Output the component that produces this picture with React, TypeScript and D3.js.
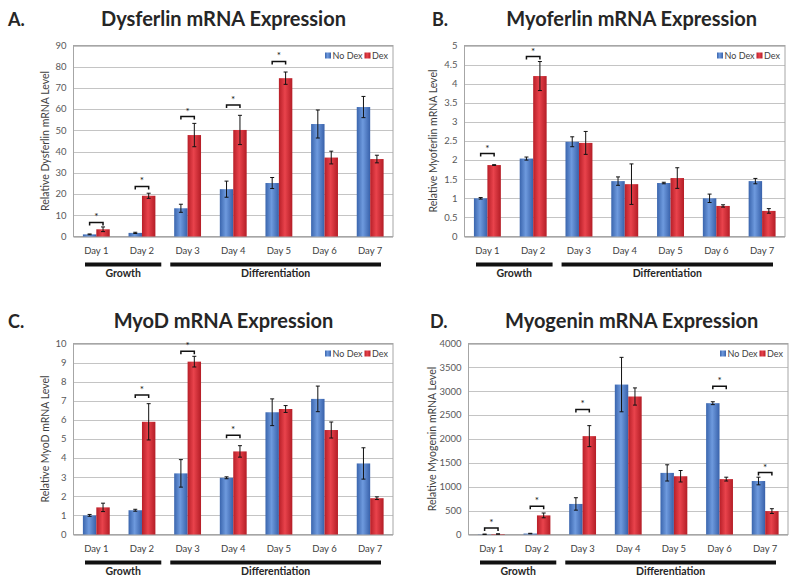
import React from "react";
import * as d3 from "d3";

const days = ["Day 1", "Day 2", "Day 3", "Day 4", "Day 5", "Day 6", "Day 7"];
const seriesNames = ["No Dex", "Dex"];

// A. Dysferlin
const dysNoDex = [1.0, 1.7, 13.3, 22.3, 25.2, 53.0, 61.0];
const dysNoDexErr = [0.2, 0.3, 1.9, 3.8, 2.6, 6.6, 5.0];
const dysDex = [3.4, 19.2, 47.8, 50.2, 74.6, 37.2, 36.5];
const dysDexErr = [1.1, 1.2, 5.5, 6.9, 2.9, 3.0, 1.8];
const dysSig = [6.6, 23.6, 56.5, 62.0, 82.5, null, null];
const dysTicks = [0, 10, 20, 30, 40, 50, 60, 70, 80, 90];

// B. Myoferlin
const myoNoDex = [1.0, 2.04, 2.48, 1.45, 1.4, 1.0, 1.45];
const myoNoDexErr = [0.02, 0.04, 0.13, 0.11, 0.02, 0.11, 0.07];
const myoDex = [1.87, 4.2, 2.45, 1.37, 1.53, 0.8, 0.67];
const myoDexErr = [0.01, 0.38, 0.3, 0.53, 0.27, 0.03, 0.06];
const myoSig = [2.17, 4.71, null, null, null, null, null];
const myoTicks = [0, 0.5, 1, 1.5, 2, 2.5, 3, 3.5, 4, 4.5, 5];

// C. MyoD
const myodNoDex = [1.0, 1.27, 3.2, 2.97, 6.4, 7.1, 3.72];
const myodNoDexErr = [0.05, 0.05, 0.72, 0.05, 0.7, 0.67, 0.82];
const myodDex = [1.42, 5.9, 9.05, 4.35, 6.57, 5.47, 1.9];
const myodDexErr = [0.22, 0.95, 0.28, 0.3, 0.18, 0.42, 0.07];
const myodSig = [null, 7.3, 9.6, 5.2, null, null, null];
const myodTicks = [0, 1, 2, 3, 4, 5, 6, 7, 8, 9, 10];

// D. Myogenin
const mygNoDex = [5, 20, 640, 3140, 1290, 2750, 1120];
const mygNoDexErr = [3, 5, 130, 570, 170, 30, 80];
const mygDex = [10, 400, 2060, 2890, 1220, 1160, 490];
const mygDexErr = [4, 50, 220, 180, 120, 40, 50];
const mygSig = [138, 593, 2618, null, null, 3105, 1298];
const mygTicks = [0, 500, 1000, 1500, 2000, 2500, 3000, 3500, 4000];

const phases = [
  { name: "Growth", from: 0, to: 1 },
  { name: "Differentiation", from: 2, to: 6 },
];

type Panel = {
  letter: string;
  title: string;
  ylabel: string;
  noDex: number[];
  noDexErr: number[];
  dex: number[];
  dexErr: number[];
  sig: (number | null)[];
  ticks: number[];
  x0: number;
  x1: number;
  y0: number;
  y1: number;
  letterX: number;
  ylabelX: number;
  titleX: number;
  titleY: number;
};

const panels: Panel[] = [
  { letter: "A.", title: "Dysferlin mRNA Expression", ylabel: "Relative Dysferlin mRNA Level",
    noDex: dysNoDex, noDexErr: dysNoDexErr, dex: dysDex, dexErr: dysDexErr, sig: dysSig, ticks: dysTicks,
    x0: 73.5, x1: 393, y0: 45.5, y1: 236.5, letterX: 8, ylabelX: 49, titleX: 223.5, titleY: 25.5 },
  { letter: "B.", title: "Myoferlin mRNA Expression", ylabel: "Relative Myoferlin mRNA Level",
    noDex: myoNoDex, noDexErr: myoNoDexErr, dex: myoDex, dexErr: myoDexErr, sig: myoSig, ticks: myoTicks,
    x0: 464.5, x1: 785, y0: 45.5, y1: 236.5, letterX: 432, ylabelX: 437, titleX: 631.7, titleY: 25.5 },
  { letter: "C.", title: "MyoD mRNA Expression", ylabel: "Relative MyoD mRNA Level",
    noDex: myodNoDex, noDexErr: myodNoDexErr, dex: myodDex, dexErr: myodDexErr, sig: myodSig, ticks: myodTicks,
    x0: 73.5, x1: 393, y0: 343.5, y1: 534.5, letterX: 8, ylabelX: 49, titleX: 223.5, titleY: 327.5 },
  { letter: "D.", title: "Myogenin mRNA Expression", ylabel: "Relative Myogenin mRNA Level",
    noDex: mygNoDex, noDexErr: mygNoDexErr, dex: mygDex, dexErr: mygDexErr, sig: mygSig, ticks: mygTicks,
    x0: 468.5, x1: 788, y0: 343.5, y1: 534.5, letterX: 430, ylabelX: 435.5, titleX: 631.7, titleY: 327.5 },
];

const FONT = "Lato, 'Open Sans', sans-serif";

function ChartPanel({ p }: { p: Panel }) {
  const x = d3.scaleBand<string>().domain(days).range([p.x0, p.x1]).paddingInner(0).paddingOuter(0);
  const inner = d3.scaleBand<string>().domain(seriesNames).range([0, x.bandwidth()]).paddingInner(0).paddingOuter(0.7);
  const yMax = p.ticks[p.ticks.length - 1];
  const y = d3.scaleLinear().domain([0, yMax]).range([p.y1, p.y0]);
  const fmt = (v: number) => String(v);
  const series = [
    { name: "No Dex", vals: p.noDex, errs: p.noDexErr, grad: "gBlue" },
    { name: "Dex", vals: p.dex, errs: p.dexErr, grad: "gRed" },
  ];
  const labelY = p.y1 + 14.5;
  const phaseY = p.y1 + 26;
  return (
    <g>
      <text x={p.letterX} y={p.titleY} fontFamily={FONT} fontWeight="bold" fontSize={18} fill="#262626">{p.letter}</text>
      <text x={p.titleX} y={p.titleY} textAnchor="middle" fontFamily={FONT} fontWeight="bold" fontSize={20} fill="#262626">{p.title}</text>
      {p.ticks.map((t) => (
        <g key={t}>
          <line x1={p.x0} x2={p.x1} y1={Math.round(y(t)) + 0.5} y2={Math.round(y(t)) + 0.5} stroke="#c4c4c4" strokeWidth={1} />
          <text x={p.x0 - 7} y={y(t)} dy="0.35em" textAnchor="end" fontFamily={FONT} fontSize={9.5} fill="#595959">{fmt(t)}</text>
        </g>
      ))}
      <rect x={p.x0} y={p.y0} width={p.x1 - p.x0} height={p.y1 - p.y0} fill="none" stroke="#a6a6a6" strokeWidth={1} />
      <text transform={`translate(${p.ylabelX},${(p.y0 + p.y1) / 2}) rotate(-90)`} textAnchor="middle" fontFamily={FONT} fontSize={10.5} fill="#404040">{p.ylabel}</text>
      {days.map((d, i) => (
        <g key={d}>
          {series.map((s) => {
            const bx = (x(d) as number) + (inner(s.name) as number);
            const bw = inner.bandwidth();
            const v = s.vals[i];
            const e = s.errs[i];
            const mid = bx + bw / 2;
            const lo = y(Math.max(0, v - e));
            const hi = y(v + e);
            return (
              <g key={s.name}>
                <rect x={bx} y={y(v)} width={bw} height={p.y1 - y(v)} fill={`url(#${s.grad})`} />
                <line x1={mid} x2={mid} y1={hi} y2={lo} stroke="#111" strokeWidth={1} />
                <line x1={mid - 2} x2={mid + 2} y1={hi} y2={hi} stroke="#111" strokeWidth={1} />
                <line x1={mid - 2} x2={mid + 2} y1={lo} y2={lo} stroke="#111" strokeWidth={1} />
              </g>
            );
          })}
          {p.sig[i] != null && (() => {
            const sy = y(p.sig[i] as number);
            const a = (x(d) as number) + (inner("No Dex") as number) + inner.bandwidth() / 2;
            const b = (x(d) as number) + (inner("Dex") as number) + inner.bandwidth() / 2;
            return (
              <g>
                <path d={`M${a},${sy + 3}V${sy}H${b}V${sy + 3}`} fill="none" stroke="#111" strokeWidth={1.5} />
                <text x={(a + b) / 2} y={sy - 2} textAnchor="middle" fontFamily={FONT} fontSize={10} fill="#111">*</text>
              </g>
            );
          })()}
          <text x={(x(d) as number) + x.bandwidth() / 2} y={labelY} dy="0.35em" textAnchor="middle" fontFamily={FONT} fontSize={9.5} fill="#404040">{d}</text>
        </g>
      ))}
      {phases.map((ph) => {
        const xa = (x(days[ph.from]) as number) + (ph.from === 0 ? 11.5 : 5.5);
        const xb = (x(days[ph.to]) as number) + x.bandwidth() - (ph.to === days.length - 1 ? 12 : 3.5);
        return (
          <g key={ph.name}>
            <rect x={xa} y={phaseY} width={xb - xa} height={4} fill="#111" />
            <text x={(xa + xb) / 2} y={phaseY + 14} textAnchor="middle" fontFamily={FONT} fontWeight="bold" fontSize={10.5} fill="#262626">{ph.name}</text>
          </g>
        );
      })}
      <g transform={`translate(${p.x1 - 68},${p.y0 + 10})`}>
        <rect x={0} y={-3} width={6} height={6} fill="url(#gBlue)" />
        <text x={7.5} y={0} dy="0.35em" fontFamily={FONT} fontSize={9} fill="#404040">No Dex</text>
        <rect x={39.5} y={-3} width={6} height={6} fill="url(#gRed)" />
        <text x={47} y={0} dy="0.35em" fontFamily={FONT} fontSize={9} fill="#404040">Dex</text>
      </g>
    </g>
  );
}

export default function App() {
  return (
    <svg width={800} height={585} style={{ position: "absolute", left: 0, top: 0, background: "#fff" }}>
      <defs>
        <linearGradient id="gBlue" x1="0" x2="1" y1="0" y2="0">
          <stop offset="0" stopColor="#3a65ad" />
          <stop offset="0.45" stopColor="#6e9ade" />
          <stop offset="1" stopColor="#3861aa" />
        </linearGradient>
        <linearGradient id="gRed" x1="0" x2="1" y1="0" y2="0">
          <stop offset="0" stopColor="#b81f28" />
          <stop offset="0.45" stopColor="#e9434c" />
          <stop offset="1" stopColor="#b41d26" />
        </linearGradient>
      </defs>
      <rect width={800} height={585} fill="#fff" />
      {panels.map((p) => (
        <ChartPanel key={p.letter} p={p} />
      ))}
    </svg>
  );
}
